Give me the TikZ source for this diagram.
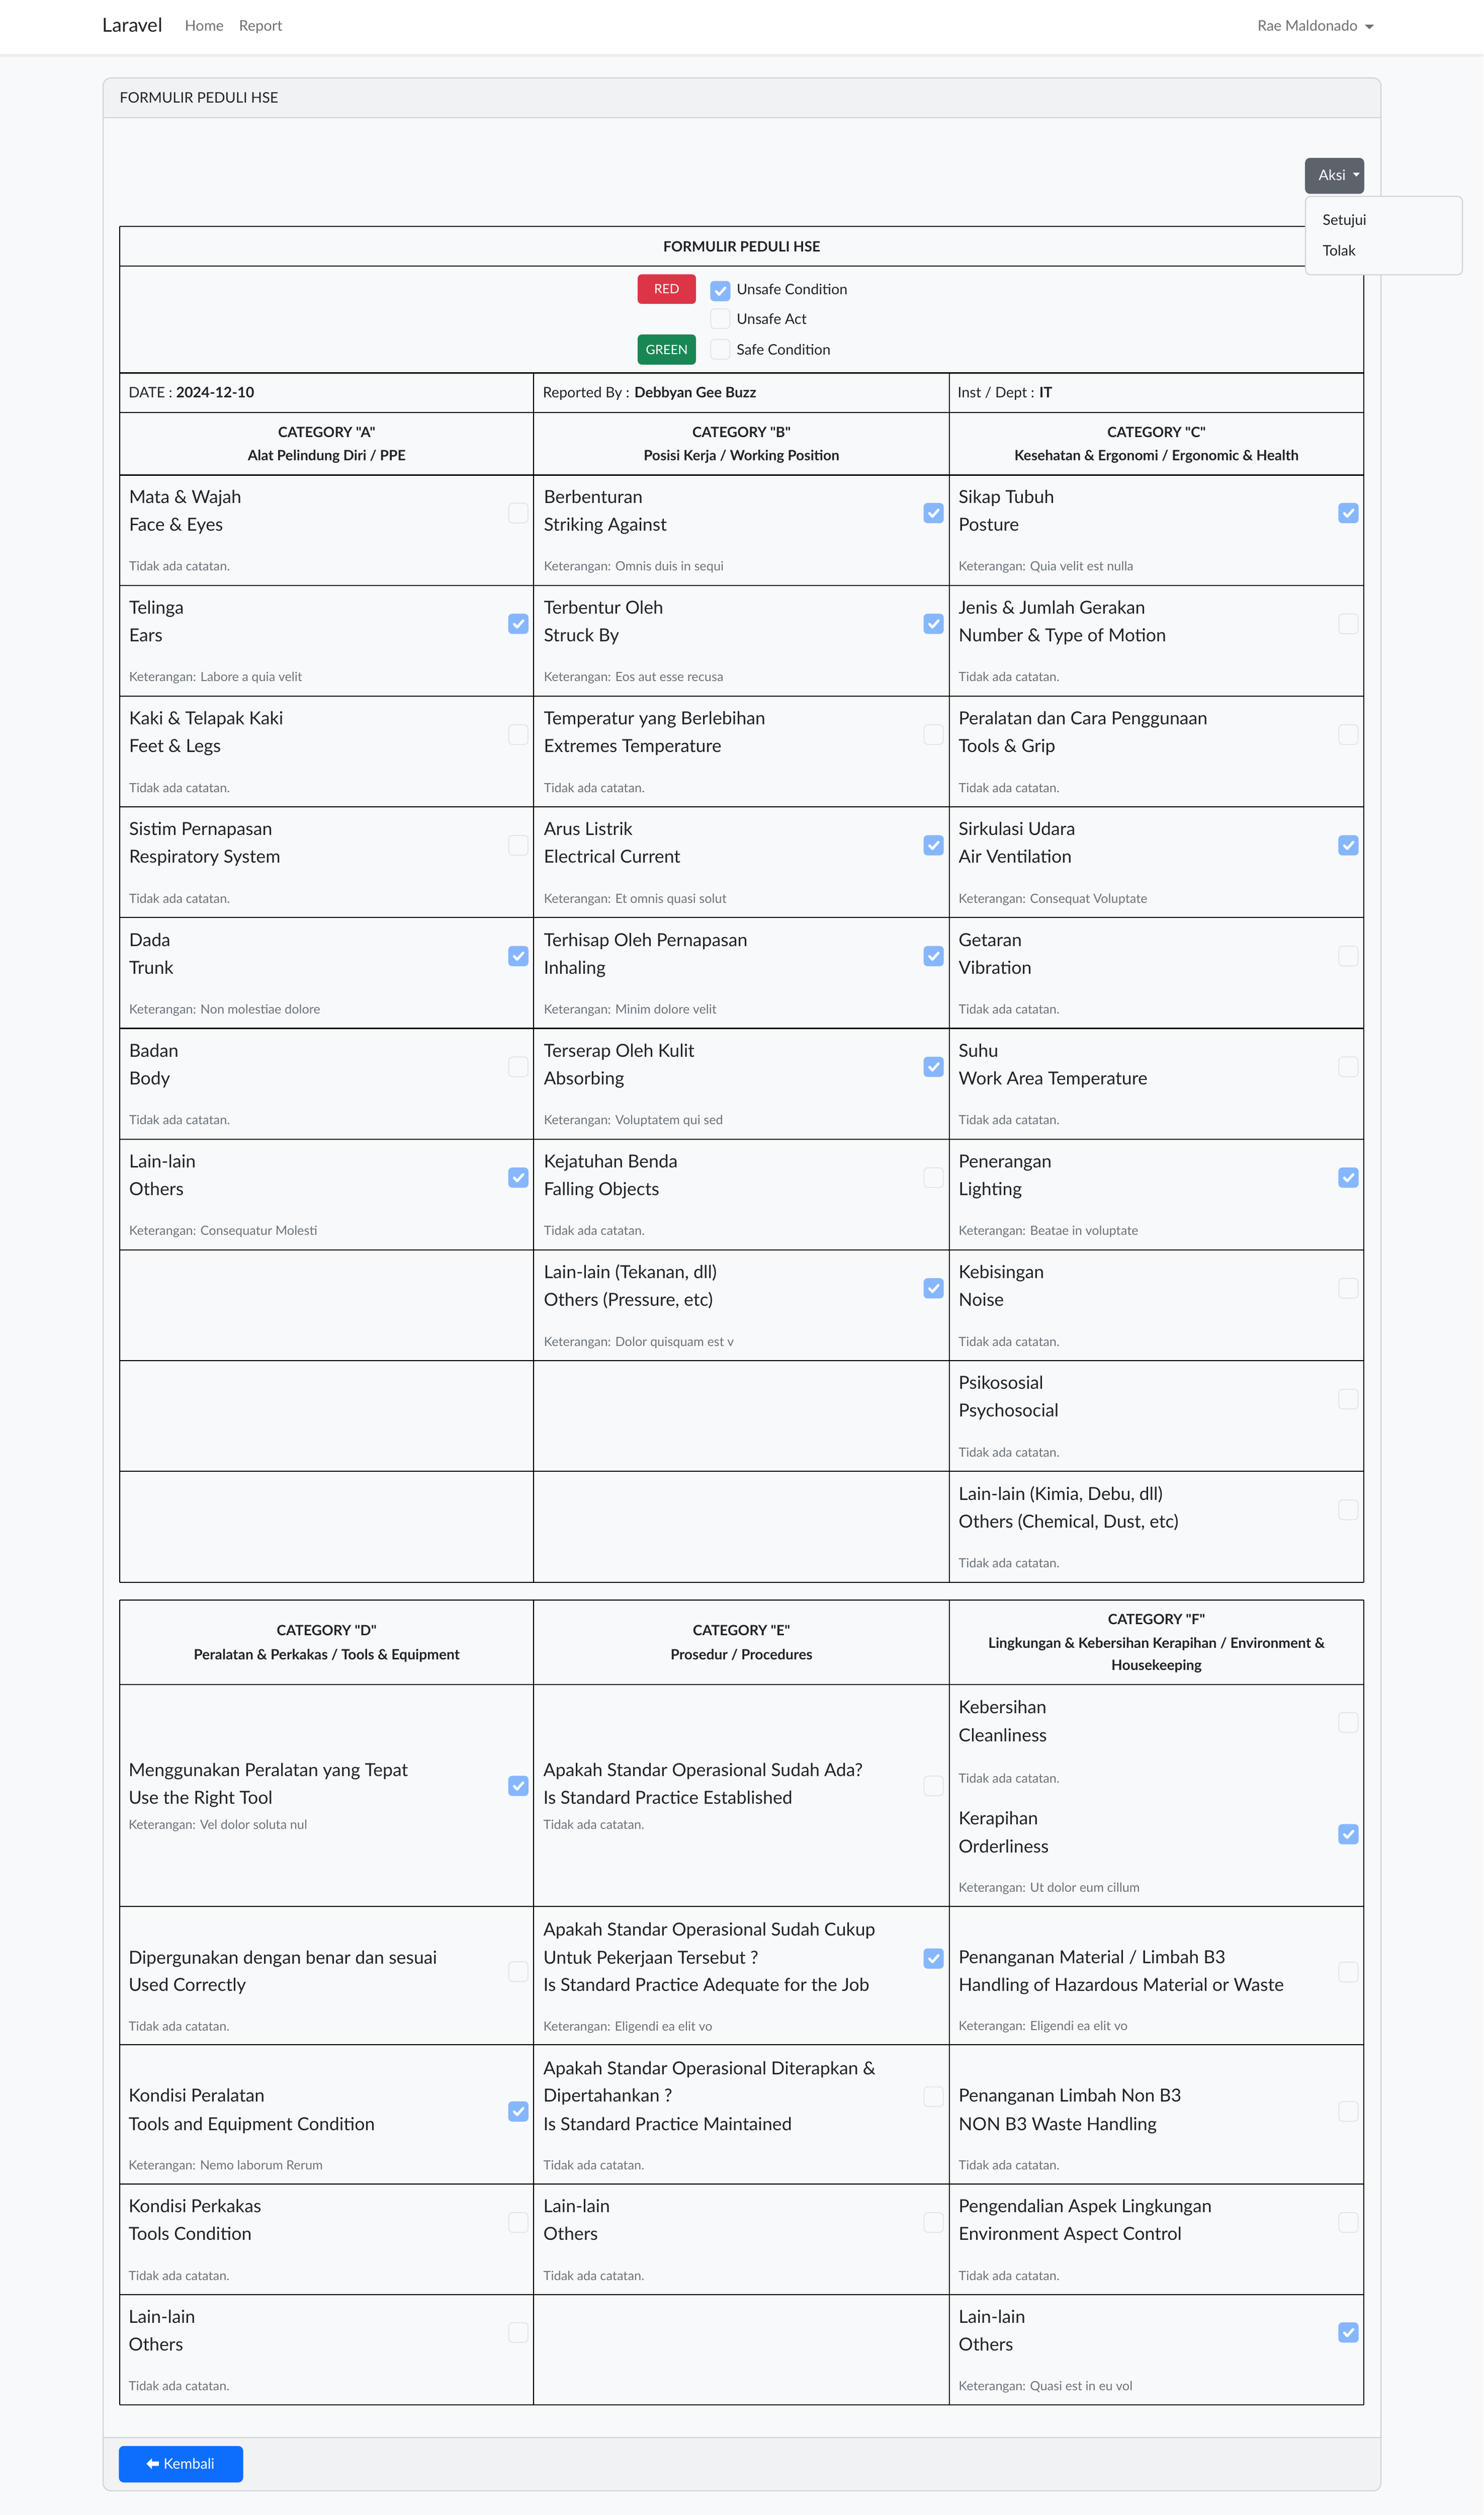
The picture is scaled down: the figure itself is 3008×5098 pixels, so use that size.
\documentclass[tikz,border=0pt]{standalone}
\usepackage{fontspec}
\setmainfont{Lato}[Ligatures=TeXOff]
\definecolor{pagebg}{HTML}{F8F9FA}
\definecolor{cardhead}{HTML}{F1F2F3}
\definecolor{cardline}{HTML}{CFD0D2}
\definecolor{txt}{HTML}{212529}
\definecolor{muted}{HTML}{6C757D}
\definecolor{navtxt}{HTML}{6F7173}
\definecolor{cbblue}{HTML}{86B7FE}
\definecolor{cbgray}{HTML}{E3E5E8}
\definecolor{bsred}{HTML}{DC3545}
\definecolor{bsgreen}{HTML}{198754}
\definecolor{bsblue}{HTML}{0D6EFD}
\definecolor{bsgray}{HTML}{5C636A}

\newcommand\cbon[2]{%
  \fill[cbblue,rounded corners=2pt] (#1-41,#2-20.5) rectangle (#1,#2+20.5);
  \draw[white,line width=1.25pt,line cap=round,line join=round] (#1-29,#2+0.5) -- (#1-23,#2+7) -- (#1-11,#2-6.5);}
\newcommand\cboff[2]{%
  \draw[cbgray,line width=0.5pt,fill=pagebg,rounded corners=2pt] (#1-40,#2-20) rectangle (#1-1,#2+20);}
\newcommand\entry[8]{%
  \node[maintext] (#1-a) at (#2,#3) {#6};
  \node[maintext] (#1-b) at (#2,#4) {#7};
  \node[notetext] (#1-c) at (#2,#5) {#8};}
\newcommand\std[6]{\entry{#1}{#2}{#3+58}{#3+114}{#3+195}{#4}{#5}{#6}}

\begin{document}
\begin{tikzpicture}[x=0.25pt,y=-0.25pt,
  maintext/.style={anchor=base west,inner sep=0pt,text=txt,font=\fontsize{9.1}{11}\selectfont},
  notetext/.style={anchor=base west,inner sep=0pt,text=muted,font=\fontsize{6.45}{8}\selectfont},
  smalltext/.style={anchor=base west,inner sep=0pt,text=txt,font=\fontsize{7.35}{9}\selectfont},
  navtext/.style={anchor=base west,inner sep=0pt,text=navtxt,font=\fontsize{7.4}{9}\selectfont},
  hdr/.style={anchor=base,inner sep=0pt,text=txt,font=\fontsize{7.2}{9}\selectfont\bfseries},
  badge/.style={anchor=center,inner sep=0pt,text=white,font=\fontsize{6.5}{8}\selectfont},
  tline/.style={black,line width=0.55pt}]
\useasboundingbox (0,0) rectangle (3008,5098);
\fill[pagebg] (0,0) rectangle (3008,5098);

% navbar
\fill[black!9] (0,110) rectangle (3008,112);
\fill[black!5] (0,112) rectangle (3008,116);
\fill[black!2] (0,116) rectangle (3008,121);
\fill[white] (0,0) rectangle (3008,110);
\node[anchor=base west,inner sep=0pt,text=txt,font=\fontsize{9.75}{11}\selectfont] (brand) at (207,65) {Laravel};
\node[navtext] (home) at (374,63) {Home};
\node[navtext] (report) at (484,63) {Report};
\node[navtext] (user) at (2549,63) {Rae Maldonado};
\fill[navtxt] (2767,50) -- (2786,50) -- (2776.5,59) -- cycle;

% card
\begin{scope}
\clip[rounded corners=4pt] (209,158) rectangle (2800,5049);
\fill[pagebg] (209,158) rectangle (2800,5049);
\fill[cardhead] (209,158) rectangle (2800,239);
\fill[cardhead] (209,4941) rectangle (2800,5049);
\end{scope}
\draw[cardline,line width=0.5pt] (209,239) -- (2800,239);
\draw[cardline,line width=0.5pt] (209,4941) -- (2800,4941);
\draw[cardline,line width=0.5pt,rounded corners=4pt] (209,158) rectangle (2800,5049);
\node[smalltext] (cardtitle) at (242,209) {FORMULIR PEDULI HSE};

% Aksi button
\fill[bsgray,rounded corners=2.5pt] (2646,320) rectangle (2766,393);
\node[smalltext,text=white] (aksi) at (2673,366) {Aksi};
\fill[white] (2743,350) -- (2757,350) -- (2750,358) -- cycle;

% ---------------- table 1 ----------------
\foreach \yy in {459,539,756,836,963,1186.5,1411,1635.5,1860,2084.5,2309,2533.5,2758,2982.5,3208}
  \draw[tline] (243,\yy) -- (2765,\yy);
\draw[tline] (243,459) -- (243,3208);
\draw[tline] (2765,459) -- (2765,3208);
\draw[tline] (1082,756) -- (1082,3208);
\draw[tline] (1925,756) -- (1925,3208);

\node[hdr] (t1title) at (1504,510) {FORMULIR PEDULI HSE};
\fill[bsred,rounded corners=2pt] (1293,556) rectangle (1411,616);
\node[badge] (red) at (1352,586) {RED};
\fill[bsgreen,rounded corners=2pt] (1293,678) rectangle (1411,739);
\node[badge] (green) at (1352,708.5) {GREEN};
\cbon{1481}{590}
\cboff{1481}{646}
\cboff{1481}{708}
\node[smalltext] (uc) at (1493,597) {Unsafe Condition};
\node[smalltext] (ua) at (1493,657) {Unsafe Act};
\node[smalltext] (sc) at (1493,719) {Safe Condition};

\node[smalltext] (date) at (260,806) {DATE : \textbf{2024-12-10}};
\node[smalltext] (rep) at (1100,806) {Reported By : \textbf{Debbyan Gee Buzz}};
\node[smalltext] (dept) at (1941,806) {Inst / Dept : \textbf{IT}};

\node[hdr] (catA1) at (662.5,887) {CATEGORY "A"};
\node[hdr] (catA2) at (662.5,933) {Alat Pelindung Diri / PPE};
\node[hdr] (catB1) at (1503.5,887) {CATEGORY "B"};
\node[hdr] (catB2) at (1503.5,933) {Posisi Kerja / Working Position};
\node[hdr] (catC1) at (2345,887) {CATEGORY "C"};
\node[hdr] (catC2) at (2345,933) {Kesehatan \& Ergonomi / Ergonomic \& Health};

% row 1
\std{a1}{261}{962}{Mata \& Wajah}{Face \& Eyes}{Tidak ada catatan.}
\cboff{1071.5}{1040}
\std{b1}{1102}{962}{Berbenturan}{Striking Against}{Keterangan: Omnis duis in sequi}
\cbon{1913.5}{1040}
\std{c1}{1943}{962}{Sikap Tubuh}{Posture}{Keterangan: Quia velit est nulla}
\cbon{2754.5}{1040}
% row 2
\std{a2}{261}{1186.5}{Telinga}{Ears}{Keterangan: Labore a quia velit}
\cbon{1071.5}{1264.5}
\std{b2}{1102}{1186.5}{Terbentur Oleh}{Struck By}{Keterangan: Eos aut esse recusa}
\cbon{1913.5}{1264.5}
\std{c2}{1943}{1186.5}{Jenis \& Jumlah Gerakan}{Number \& Type of Motion}{Tidak ada catatan.}
\cboff{2754.5}{1264.5}
% row 3
\std{a3}{261}{1411}{Kaki \& Telapak Kaki}{Feet \& Legs}{Tidak ada catatan.}
\cboff{1071.5}{1489}
\std{b3}{1102}{1411}{Temperatur yang Berlebihan}{Extremes Temperature}{Tidak ada catatan.}
\cboff{1913.5}{1489}
\std{c3}{1943}{1411}{Peralatan dan Cara Penggunaan}{Tools \& Grip}{Tidak ada catatan.}
\cboff{2754.5}{1489}
% row 4
\std{a4}{261}{1635.5}{Sistim Pernapasan}{Respiratory System}{Tidak ada catatan.}
\cboff{1071.5}{1713.5}
\std{b4}{1102}{1635.5}{Arus Listrik}{Electrical Current}{Keterangan: Et omnis quasi solut}
\cbon{1913.5}{1713.5}
\std{c4}{1943}{1635.5}{Sirkulasi Udara}{Air Ventilation}{Keterangan: Consequat Voluptate}
\cbon{2754.5}{1713.5}
% row 5
\std{a5}{261}{1860}{Dada}{Trunk}{Keterangan: Non molestiae dolore}
\cbon{1071.5}{1938}
\std{b5}{1102}{1860}{Terhisap Oleh Pernapasan}{Inhaling}{Keterangan: Minim dolore velit}
\cbon{1913.5}{1938}
\std{c5}{1943}{1860}{Getaran}{Vibration}{Tidak ada catatan.}
\cboff{2754.5}{1938}
% row 6
\std{a6}{261}{2084.5}{Badan}{Body}{Tidak ada catatan.}
\cboff{1071.5}{2162.5}
\std{b6}{1102}{2084.5}{Terserap Oleh Kulit}{Absorbing}{Keterangan: Voluptatem qui sed}
\cbon{1913.5}{2162.5}
\std{c6}{1943}{2084.5}{Suhu}{Work Area Temperature}{Tidak ada catatan.}
\cboff{2754.5}{2162.5}
% row 7
\std{a7}{261}{2309}{Lain-lain}{Others}{Keterangan: Consequatur Molesti}
\cbon{1071.5}{2387}
\std{b7}{1102}{2309}{Kejatuhan Benda}{Falling Objects}{Tidak ada catatan.}
\cboff{1913.5}{2387}
\std{c7}{1943}{2309}{Penerangan}{Lighting}{Keterangan: Beatae in voluptate}
\cbon{2754.5}{2387}
% row 8
\std{b8}{1102}{2533.5}{Lain-lain (Tekanan, dll)}{Others (Pressure, etc)}{Keterangan: Dolor quisquam est v}
\cbon{1913.5}{2611.5}
\std{c8}{1943}{2533.5}{Kebisingan}{Noise}{Tidak ada catatan.}
\cboff{2754.5}{2611.5}
% row 9
\std{c9}{1943}{2758}{Psikososial}{Psychosocial}{Tidak ada catatan.}
\cboff{2754.5}{2836}
% row 10
\std{c10}{1943}{2982.5}{Lain-lain (Kimia, Debu, dll)}{Others (Chemical, Dust, etc)}{Tidak ada catatan.}
\cboff{2754.5}{3060.5}

% ---------------- table 2 ----------------
\foreach \yy in {3243,3415,3864,4145,4427,4651,4875}
  \draw[tline] (243,\yy) -- (2765,\yy);
\foreach \xx in {243,1082,1925,2765}
  \draw[tline] (\xx,3243) -- (\xx,4875);

\node[hdr] (catD1) at (662.5,3315) {CATEGORY "D"};
\node[hdr] (catD2) at (662.5,3364) {Peralatan \& Perkakas / Tools \& Equipment};
\node[hdr] (catE1) at (1503.5,3315) {CATEGORY "E"};
\node[hdr] (catE2) at (1503.5,3364) {Prosedur / Procedures};
\node[hdr] (catF1) at (2345,3293) {CATEGORY "F"};
\node[hdr] (catF2) at (2345,3341) {Lingkungan \& Kebersihan Kerapihan / Environment \&};
\node[hdr] (catF3) at (2345,3386) {Housekeeping};

% row 1
\entry{d1}{260}{3601}{3657}{3707.5}{Menggunakan Peralatan yang Tepat}{Use the Right Tool}{Keterangan: Vel dolor soluta nul}
\cbon{1071.5}{3620}
\entry{e1}{1101}{3601}{3657}{3707.5}{Apakah Standar Operasional Sudah Ada?}{Is Standard Practice Established}{Tidak ada catatan.}
\cboff{1913.5}{3620}
\entry{f1}{1943}{3473}{3530}{3613.5}{Kebersihan}{Cleanliness}{Tidak ada catatan.}
\cboff{2754.5}{3491.5}
\entry{f1b}{1943}{3699}{3756}{3835.5}{Kerapihan}{Orderliness}{Keterangan: Ut dolor eum cillum}
\cbon{2754.5}{3718}
% row 2
\entry{d2}{260}{3981}{4036}{4116.5}{Dipergunakan dengan benar dan sesuai}{Used Correctly}{Tidak ada catatan.}
\cboff{1071.5}{3996.5}
\node[maintext] (e2-0) at (1101,3924) {Apakah Standar Operasional Sudah Cukup};
\entry{e2}{1101}{3981}{4036}{4116.5}{Untuk Pekerjaan Tersebut ?}{Is Standard Practice Adequate for the Job}{Keterangan: Eligendi ea elit vo}
\cbon{1913.5}{3970}
\entry{f2}{1943}{3980}{4036}{4115.5}{Penanganan Material / Limbah B3}{Handling of Hazardous Material or Waste}{Keterangan: Eligendi ea elit vo}
\cboff{2754.5}{3997.5}
% row 3
\entry{d3}{260}{4260}{4318}{4397.5}{Kondisi Peralatan}{Tools and Equipment Condition}{Keterangan: Nemo laborum Rerum}
\cbon{1071.5}{4280}
\node[maintext] (e3-0) at (1101,4205) {Apakah Standar Operasional Diterapkan \&};
\entry{e3}{1101}{4260}{4318}{4397.5}{Dipertahankan ?}{Is Standard Practice Maintained}{Tidak ada catatan.}
\cboff{1913.5}{4250}
\entry{f3}{1943}{4260}{4318}{4397.5}{Penanganan Limbah Non B3}{NON B3 Waste Handling}{Tidak ada catatan.}
\cboff{2754.5}{4280}
% row 4
\std{d4}{260}{4427}{Kondisi Perkakas}{Tools Condition}{Tidak ada catatan.}
\cboff{1071.5}{4505}
\std{e4}{1101}{4427}{Lain-lain}{Others}{Tidak ada catatan.}
\cboff{1913.5}{4505}
\std{f4}{1943}{4427}{Pengendalian Aspek Lingkungan}{Environment Aspect Control}{Tidak ada catatan.}
\cboff{2754.5}{4505}
% row 5
\std{d5}{260}{4651}{Lain-lain}{Others}{Tidak ada catatan.}
\cboff{1071.5}{4728}
\std{f5}{1943}{4651}{Lain-lain}{Others}{Keterangan: Quasi est in eu vol}
\cbon{2754.5}{4728}

% dropdown menu (on top)
\draw[cardline,line width=0.5pt,fill=pagebg,rounded corners=2.5pt] (2647,398) rectangle (2965,557);
\node[smalltext] (setujui) at (2681,456) {Setujui};
\node[smalltext] (tolak) at (2681,518) {Tolak};

% footer button
\fill[bsblue,rounded corners=2.5pt] (241,4958) rectangle (493,5032);
\fill[white] (297,4994) -- (308,4983) -- (308,4989.5) -- (322,4989.5) -- (322,4998.5) -- (308,4998.5) -- (308,5005) -- cycle;
\node[smalltext,text=white] (kembali) at (331,5005) {Kembali};
\end{tikzpicture}
\end{document}
